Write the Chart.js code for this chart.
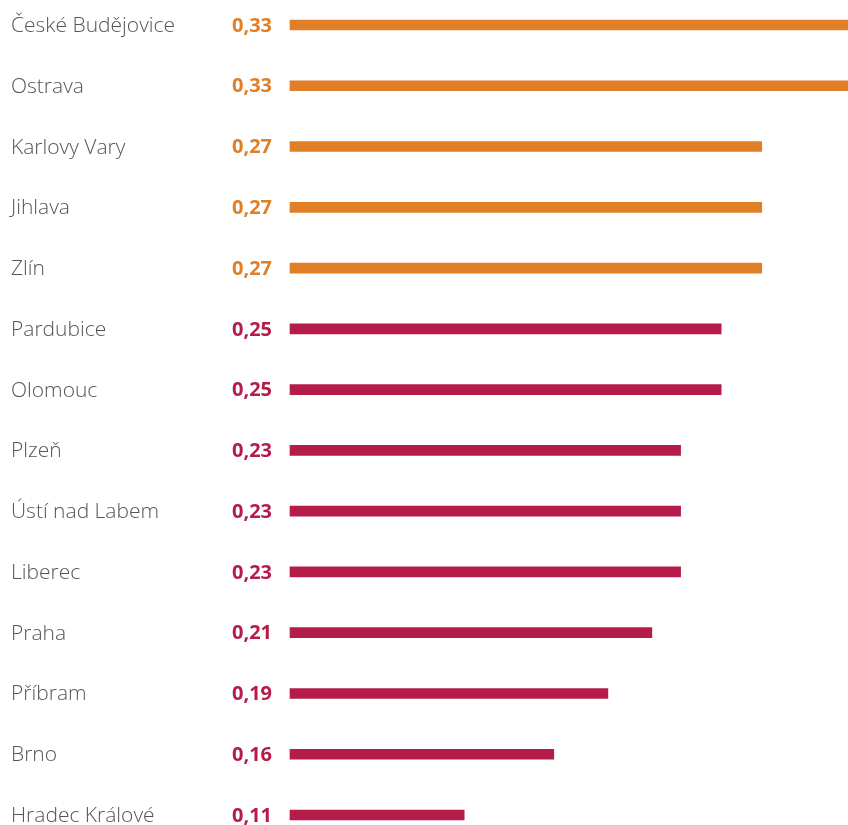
<!DOCTYPE html>
<html>
<head>
<meta charset="utf-8">
<script src="https://cdn.jsdelivr.net/npm/chart.js@4/dist/chart.umd.min.js"></script>
<style>
  html, body { margin: 0; padding: 0; background: #ffffff; }
  #wrap { width: 848px; height: 825px; position: relative; }
</style>
</head>
<body>
<div id="wrap"><canvas id="c"></canvas></div>
<script>
const cities = ["České Budějovice", "Ostrava", "Karlovy Vary", "Jihlava", "Zlín", "Pardubice", "Olomouc", "Plzeň", "Ústí nad Labem", "Liberec", "Praha", "Příbram", "Brno", "Hradec Králové"];
const valueLabels = ["0,33", "0,33", "0,27", "0,27", "0,27", "0,25", "0,25", "0,23", "0,23", "0,23", "0,21", "0,19", "0,16", "0,11"];
const barValues = [0.330, 0.330, 0.279, 0.279, 0.279, 0.255, 0.255, 0.231, 0.231, 0.231, 0.214, 0.188, 0.156, 0.103];
const groups = ["top", "top", "top", "top", "top", "rest", "rest", "rest", "rest", "rest", "rest", "rest", "rest", "rest"];

const ORANGE = "#E07F27";
const CRIMSON = "#B51C4A";
const colors = groups.map(g => g === "top" ? ORANGE : CRIMSON);

const labelPlugin = {
  id: "labelPlugin",
  afterDatasetsDraw(chart) {
    const ctx = chart.ctx;
    const y = chart.scales.y;
    ctx.save();
    ctx.textBaseline = "middle";
    cities.forEach((name, i) => {
      const py = y.getPixelForValue(i) + 1;
      ctx.font = "300 21px 'Open Sans', 'DejaVu Sans', sans-serif";
      ctx.fillStyle = "#555555";
      ctx.textAlign = "left";
      ctx.fillText(name, 11, py);
      ctx.font = "bold 20px 'Open Sans', 'DejaVu Sans', sans-serif";
      ctx.fillStyle = colors[i];
      ctx.textAlign = "right";
      ctx.fillText(valueLabels[i], 272, py);
    });
    ctx.restore();
  }
};

new Chart(document.getElementById("c"), {
  type: "bar",
  data: {
    labels: cities,
    datasets: [{
      data: barValues,
      backgroundColor: colors,
      borderWidth: 0,
      barThickness: 10,
      clip: false
    }]
  },
  options: {
    indexAxis: "y",
    responsive: true,
    maintainAspectRatio: false,
    animation: false,
    layout: { padding: { left: 290, right: 0, top: 25, bottom: 10 } },
    scales: {
      x: { display: false, min: 0, max: 0.33 },
      y: { display: false, offset: false, grid: { display: false } }
    },
    plugins: {
      legend: { display: false },
      tooltip: { enabled: false }
    }
  },
  plugins: [labelPlugin]
});
</script>
</body>
</html>
